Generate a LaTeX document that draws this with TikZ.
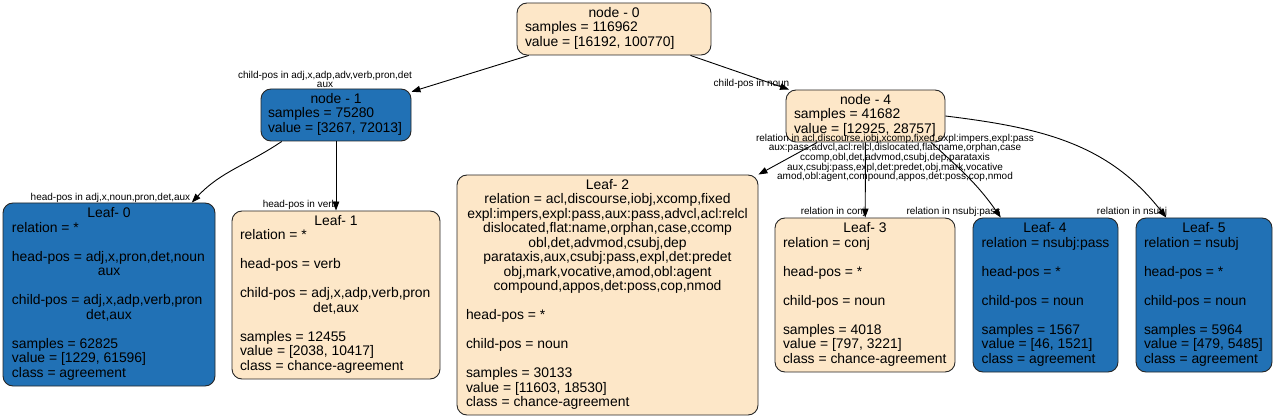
\documentclass[tikz,border=0pt]{standalone}
\usepackage{fontspec}
\setmainfont{Liberation Sans}
\usetikzlibrary{arrows.meta}
\definecolor{treecream}{HTML}{FDE7C8}
\definecolor{treeblue}{HTML}{2171B5}
\newcommand{\midline}[1]{\multicolumn{1}{@{}c@{}}{#1}}

\begin{document}
\begin{tikzpicture}[x=1pt,y=1pt,
        treebox/.style={draw=black!85,line width=0.9pt,rounded corners=10pt,inner sep=0pt,
            font=\fontsize{13.9}{14.5}\selectfont},
        leafcream/.style={treebox,fill=treecream},
        leafblue/.style={treebox,fill=treeblue},
        splitbox/.style={font=\fontsize{13.9}{13.6}\selectfont,minimum height=52pt},
        conn/.style={-{Triangle[length=9pt,width=6.5pt]},line width=0.9pt},
        elabel/.style={inner sep=0pt,align=center,font=\fontsize{10}{9.6}\selectfont}]
                    \useasboundingbox (0,0) rectangle (1276,418);

                    \node[leafcream,splitbox,minimum width=194pt] (n0) at (614,389)
                        {\begin{tabular}{@{}l@{}}\makebox[178pt]{node - 0}\\
                        samples = 116962\\
                        value = [16192, 100770]\end{tabular}};
                    \node[leafblue,splitbox,minimum width=150pt] (n1) at (336,303)
                        {\begin{tabular}{@{}l@{}}\makebox[136pt]{node - 1}\\
                        samples = 75280\\
                        value = [3267, 72013]\end{tabular}};
                    \node[leafcream,splitbox,minimum width=159pt] (n4) at (865.5,302)
                        {\begin{tabular}{@{}l@{}}\makebox[143pt]{node - 4}\\
                        samples = 41682\\
                        value = [12925, 28757]\end{tabular}};

                    \node[leafblue,minimum width=212pt,minimum height=183pt] (l0) at (109,123.5)
                        {\begin{tabular}{@{}l@{}}\makebox[194pt]{Leaf- 0}\\
                        relation = *\\
                        \\
                        head-pos = adj,x,pron,det,noun\\
                        \midline{aux}\\
                        \\
                        child-pos = adj,x,adp,verb,pron\\
                        \midline{det,aux}\\
                        \\
                        samples = 62825\\
                        value = [1229, 61596]\\
                        class = agreement\end{tabular}};
                    \node[leafcream,minimum width=208pt,minimum height=168pt] (l1) at (336,123)
                        {\begin{tabular}{@{}l@{}}\makebox[192pt]{Leaf- 1}\\
                        relation = *\\
                        \\
                        head-pos = verb\\
                        \\
                        child-pos = adj,x,adp,verb,pron\\
                        \midline{det,aux}\\
                        \\
                        samples = 12455\\
                        value = [2038, 10417]\\
                        class = chance-agreement\end{tabular}};
                    \node[leafcream,minimum width=301pt,minimum height=240pt] (l2) at (607.5,123)
                        {\begin{tabular}{@{}l@{}}\makebox[283pt]{Leaf- 2}\\
                        \midline{relation = acl,discourse,iobj,xcomp,fixed}\\
                        \midline{expl:impers,expl:pass,aux:pass,advcl,acl:relcl}\\
                        \midline{dislocated,flat:name,orphan,case,ccomp}\\
                        \midline{obl,det,advmod,csubj,dep}\\
                        \midline{parataxis,aux,csubj:pass,expl,det:predet}\\
                        \midline{obj,mark,vocative,amod,obl:agent}\\
                        \midline{compound,appos,det:poss,cop,nmod}\\
                        \\
                        head-pos = *\\
                        \\
                        child-pos = noun\\
                        \\
                        samples = 30133\\
                        value = [11603, 18530]\\
                        class = chance-agreement\end{tabular}};
                    \node[leafcream,minimum width=180pt,minimum height=154pt] (l3) at (865,123)
                        {\begin{tabular}{@{}l@{}}\makebox[164pt]{Leaf- 3}\\
                        relation = conj\\
                        \\
                        head-pos = *\\
                        \\
                        child-pos = noun\\
                        \\
                        samples = 4018\\
                        value = [797, 3221]\\
                        class = chance-agreement\end{tabular}};
                    \node[leafblue,minimum width=145pt,minimum height=154pt] (l4) at (1045.5,123)
                        {\begin{tabular}{@{}l@{}}\makebox[127pt]{Leaf- 4}\\
                        relation = nsubj:pass\\
                        \\
                        head-pos = *\\
                        \\
                        child-pos = noun\\
                        \\
                        samples = 1567\\
                        value = [46, 1521]\\
                        class = agreement\end{tabular}};
                    \node[leafblue,minimum width=136pt,minimum height=154pt] (l5) at (1204,123)
                        {\begin{tabular}{@{}l@{}}\makebox[120pt]{Leaf- 5}\\
                        relation = nsubj\\
                        \\
                        head-pos = *\\
                        \\
                        child-pos = noun\\
                        \\
                        samples = 5964\\
                        value = [479, 5485]\\
                        class = agreement\end{tabular}};

                    \node[elabel] (e01) at (325,338.5) {child-pos in adj,x,adp,adv,verb,pron,det\\aux};
                    \node[elabel] (e04) at (751.5,334) {child-pos in noun};
                    \node[elabel] (e10) at (110.5,220) {head-pos in adj,x,noun,pron,det,aux};
                    \node[elabel] (e11) at (300,213) {head-pos in verb};
                    \node[elabel] (e42) at (895,260) {relation in acl,discourse,iobj,xcomp,fixed,expl:impers,expl:pass\\
                        aux:pass,advcl,acl:relcl,dislocated,flat:name,orphan,case\\
                        ccomp,obl,det,advmod,csubj,dep,parataxis\\
                        aux,csubj:pass,expl,det:predet,obj,mark,vocative\\
                        amod,obl:agent,compound,appos,det:poss,cop,nmod};
                    \node[elabel] (e43) at (833,206) {relation in conj};
                    \node[elabel] (e44) at (953.5,206) {relation in nsubj:pass};
                    \node[elabel] (e45) at (1132,206) {relation in nsubj};

                    \draw[conn] (n0) -- (n1);
                    \draw[conn] (n0) -- (n4);
                    \draw[conn] (n1.206) to[out=214,in=47] (l0.48);
                    \draw[conn] (n1) -- (l1);
                    \draw[conn] (n4) -- (l2.north east);
                    \draw[conn] (n4) -- (l3);
                    \draw[conn] (n4.-22) to[out=-42,in=125] (l4.120);
                    \draw[conn] (n4.east) to[out=-7,in=128] (l5.116);
                \end{tikzpicture}
\end{document}
